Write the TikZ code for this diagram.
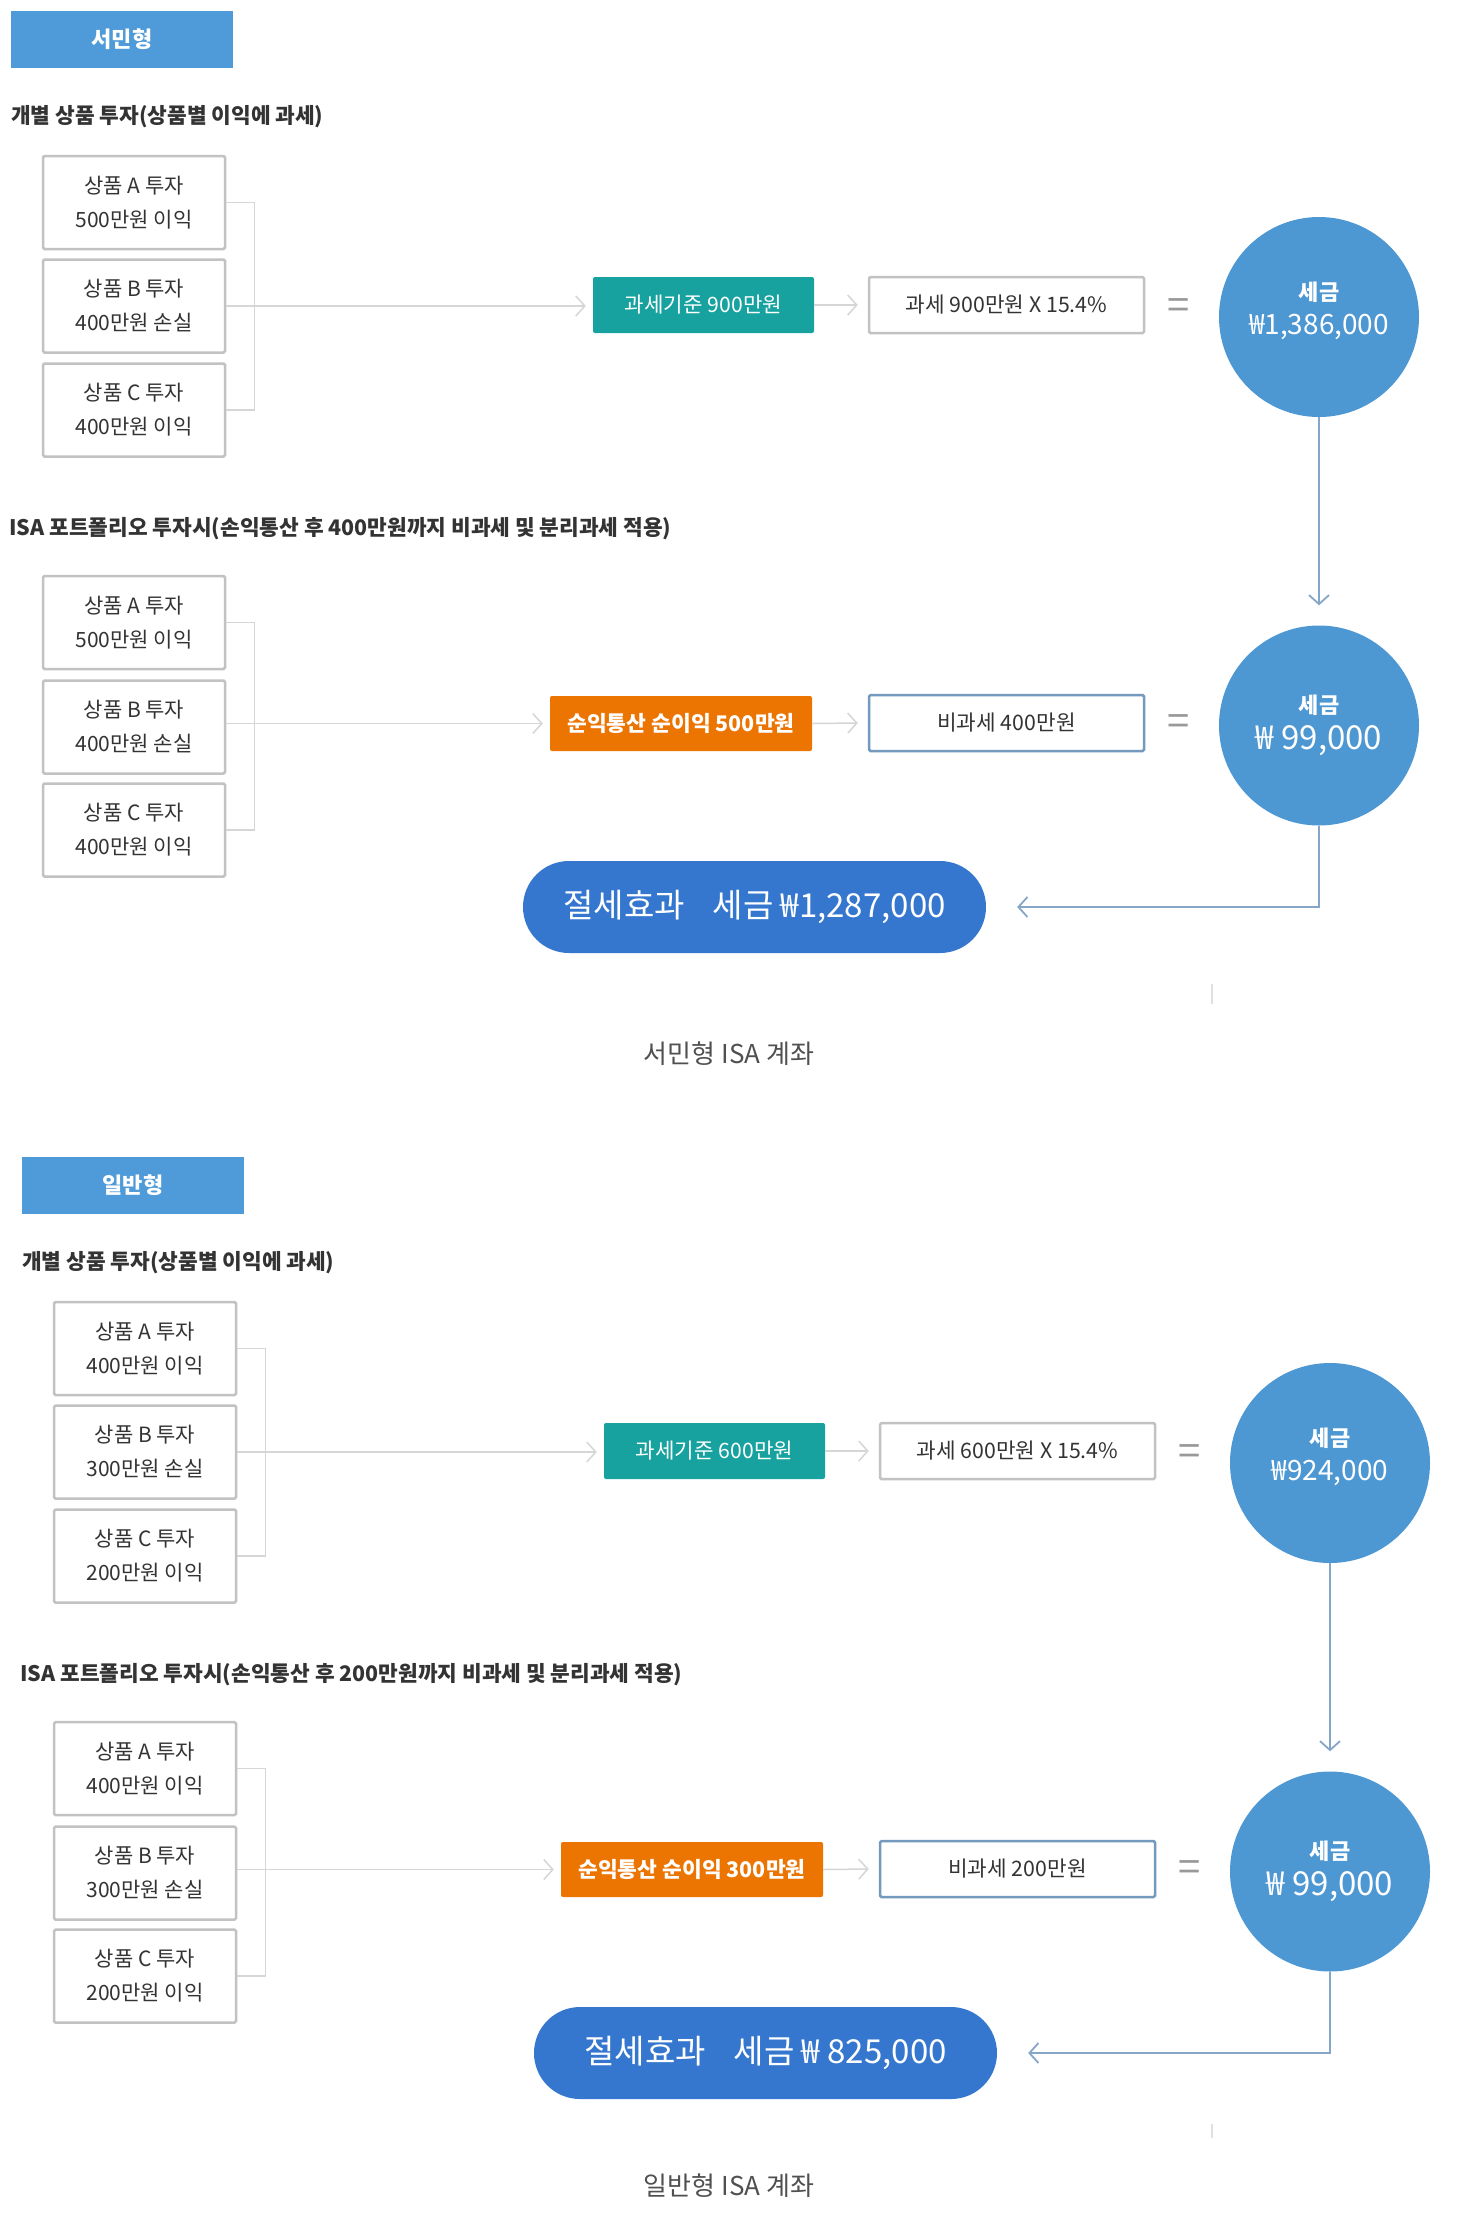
\documentclass[tikz,border=0pt]{standalone}
\usepackage{fontspec}
\setmainfont{Noto Sans CJK KR}
\usetikzlibrary{arrows.meta,calc}
\definecolor{hdrblue}{HTML}{4F9AD8}
\definecolor{cblue}{HTML}{4D97D3}
\definecolor{pillblue}{HTML}{3577CF}
\definecolor{tealc}{HTML}{17A2A0}
\definecolor{orangec}{HTML}{EC7400}
\definecolor{boxgray}{HTML}{C2C2C2}
\definecolor{bbord}{HTML}{7399BF}
\definecolor{linegray}{HTML}{D6D6D6}
\definecolor{bline}{HTML}{86A6C8}
\definecolor{txt}{HTML}{333333}
\definecolor{captxt}{HTML}{505050}
\tikzset{
  hdrbox/.style={fill=hdrblue, minimum width=222pt, minimum height=57pt, inner sep=0pt, text=white, font=\fontsize{22}{26}\selectfont\bfseries},
  ttl/.style={anchor=west, inner sep=0pt, text=txt, font=\fontsize{21.4}{26}\selectfont\bfseries},
  invbox/.style={draw=boxgray, line width=2.5pt, fill=white, rounded corners=1.5pt, minimum width=182pt, minimum height=93pt, inner sep=0pt, align=center, text=txt, font=\fontsize{21}{34}\selectfont},
  tealbox/.style={fill=tealc, rounded corners=2pt, minimum width=221pt, minimum height=56pt, inner sep=0pt, text=white, font=\fontsize{21.2}{26}\selectfont},
  orbox/.style={fill=orangec, rounded corners=2pt, minimum width=262pt, minimum height=55pt, inner sep=0pt, text=white, font=\fontsize{21.5}{26}\selectfont\bfseries},
  resbox/.style={draw=boxgray, line width=2.5pt, fill=white, rounded corners=1.5pt, minimum width=275pt, minimum height=56pt, inner sep=0pt, text=txt, font=\fontsize{21.3}{26}\selectfont},
  resboxb/.style={resbox, draw=bbord},
  eqsign/.style={inner sep=0pt, text=black!40, font=\fontsize{40}{40}\selectfont},
  taxcirc/.style={circle, fill=cblue, minimum size=200pt, inner sep=0pt},
  circlbl/.style={inner sep=0pt, text=white, font=\fontsize{22}{26}\selectfont\bfseries},
  circval/.style={inner sep=0pt, text=white, font=\fontsize{28}{32}\selectfont},
  circvalb/.style={inner sep=0pt, text=white, font=\fontsize{33}{36}\selectfont},
  pill/.style={fill=pillblue, rounded corners=46pt, minimum width=463pt, minimum height=92pt, inner sep=0pt, text=white, font=\fontsize{33}{38}\selectfont},
  caption/.style={inner sep=0pt, text=captxt, font=\fontsize{26}{30}\selectfont},
  link/.style={draw=linegray, line width=1.5pt},
  conn/.style={link, -{Straight Barb[length=9pt,width=20pt]}},
  bconn/.style={draw=bline, line width=1.8pt, -{Straight Barb[length=9pt,width=20pt]}},
  faint/.style={draw=black!12, line width=1.5pt}
}
\begin{document}
\begin{tikzpicture}[x=1pt,y=-1pt]
\useasboundingbox[fill=white] (0,0) rectangle (1458,2230);

% ===================== Section 1 =====================
\node[hdrbox] (h1) at (122,39.5) {서민형};
\node[ttl] (s1t1) at (11,117) {개별 상품 투자(상품별 이익에 과세)};
\node[invbox] (s1a) at (134,202.5) {상품 A 투자\\500만원 이익};
\node[invbox] (s1b) at (134,306) {상품 B 투자\\400만원 손실};
\node[invbox] (s1c) at (134,410) {상품 C 투자\\400만원 이익};
\node[tealbox] (s1t) at (703.5,305) {과세기준 900만원};
\node[resbox] (s1r) at (1006.5,305) {과세 900만원 X 15.4\%};
\node[eqsign] (s1e) at (1179,309) {=};
\node[taxcirc] (s1k) at (1319,317) {};
\node[circlbl] (s1kl) at (1319,292) {세금};
\node[circval] (s1kv) at (1319,327) {₩1,386,000};
\draw[link] (s1a.east) -- ++(28,0) |- (s1c.east);
\draw[conn] (s1b.east) -- ([xshift=-7pt]s1t.west |- s1b.east);
\draw[conn] (s1t.east) -- ([xshift=-10pt]s1r.west);

\node[ttl] (s1t2) at (9,529) {ISA 포트폴리오 투자시(손익통산 후 400만원까지 비과세 및 분리과세 적용)};
\node[invbox] (s1a2) at (134,622.5) {상품 A 투자\\500만원 이익};
\node[invbox] (s1b2) at (134,727) {상품 B 투자\\400만원 손실};
\node[invbox] (s1c2) at (134,830) {상품 C 투자\\400만원 이익};
\node[orbox] (s1o) at (681,723.5) {순익통산 순이익 500만원};
\node[resboxb] (s1n) at (1006.5,723) {비과세 400만원};
\node[eqsign] (s1e2) at (1179,725) {=};
\node[taxcirc] (s1k2) at (1319,725.5) {};
\node[circlbl] (s1k2l) at (1319,705.5) {세금};
\node[circvalb] (s1k2v) at (1319,741) {₩ 99,000};
\draw[link] (s1a2.east) -- ++(28,0) |- (s1c2.east);
\draw[conn] (s1o.west -| s1b2.east) -- ([xshift=-7pt]s1o.west);
\draw[conn] (s1o.east) -- ([xshift=-10pt]s1n.west);
\draw[bconn] (s1k.south) -- ([yshift=20pt]s1k2.north);

\node[pill] (s1p) at (754.5,907) {절세효과\hspace{28pt}세금 ₩1,287,000};
\draw[bconn] (s1k2.south) |- ([xshift=31pt]s1p.east);
\coordinate (s1m1) at (1212,984);
\coordinate (s1m2) at (1212,1004);
\draw[faint] (s1m1) -- (s1m2);
\node[caption] (s1cap) at (729,1054) {서민형 ISA 계좌};

% ===================== Section 2 =====================
\begin{scope}[shift={(11,1146)}]
\node[hdrbox] (h2) at (122,39.5) {일반형};
\node[ttl] (s2t1) at (11,117) {개별 상품 투자(상품별 이익에 과세)};
\node[invbox] (s2a) at (134,202.5) {상품 A 투자\\400만원 이익};
\node[invbox] (s2b) at (134,306) {상품 B 투자\\300만원 손실};
\node[invbox] (s2c) at (134,410) {상품 C 투자\\200만원 이익};
\node[tealbox] (s2t) at (703.5,305) {과세기준 600만원};
\node[resbox] (s2r) at (1006.5,305) {과세 600만원 X 15.4\%};
\node[eqsign] (s2e) at (1179,309) {=};
\node[taxcirc] (s2k) at (1319,317) {};
\node[circlbl] (s2kl) at (1319,292) {세금};
\node[circval] (s2kv) at (1319,327) {₩924,000};
\draw[link] (s2a.east) -- ++(28,0) |- (s2c.east);
\draw[conn] (s2b.east) -- ([xshift=-7pt]s2t.west |- s2b.east);
\draw[conn] (s2t.east) -- ([xshift=-10pt]s2r.west);

\node[ttl] (s2t2) at (9,529) {ISA 포트폴리오 투자시(손익통산 후 200만원까지 비과세 및 분리과세 적용)};
\node[invbox] (s2a2) at (134,622.5) {상품 A 투자\\400만원 이익};
\node[invbox] (s2b2) at (134,727) {상품 B 투자\\300만원 손실};
\node[invbox] (s2c2) at (134,830) {상품 C 투자\\200만원 이익};
\node[orbox] (s2o) at (681,723.5) {순익통산 순이익 300만원};
\node[resboxb] (s2n) at (1006.5,723) {비과세 200만원};
\node[eqsign] (s2e2) at (1179,725) {=};
\node[taxcirc] (s2k2) at (1319,725.5) {};
\node[circlbl] (s2k2l) at (1319,705.5) {세금};
\node[circvalb] (s2k2v) at (1319,741) {₩ 99,000};
\draw[link] (s2a2.east) -- ++(28,0) |- (s2c2.east);
\draw[conn] (s2o.west -| s2b2.east) -- ([xshift=-7pt]s2o.west);
\draw[conn] (s2o.east) -- ([xshift=-10pt]s2n.west);
\draw[bconn] (s2k.south) -- ([yshift=20pt]s2k2.north);

\node[pill] (s2p) at (754.5,907) {절세효과\hspace{28pt}세금 ₩ 825,000};
\draw[bconn] (s2k2.south) |- ([xshift=31pt]s2p.east);
\end{scope}
\coordinate (s2m1) at (1212,2124);
\coordinate (s2m2) at (1212,2138);
\draw[faint] (s2m1) -- (s2m2);
\node[caption] (s2cap) at (729,2186) {일반형 ISA 계좌};
\end{tikzpicture}
\end{document}
